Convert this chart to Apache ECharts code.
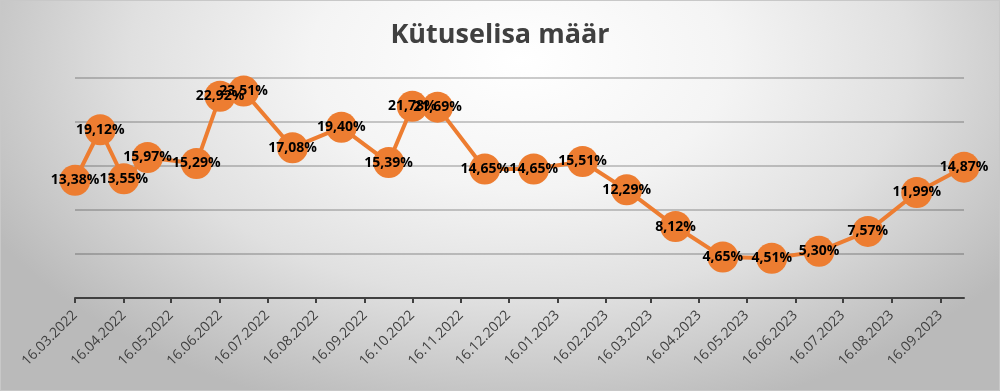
<!DOCTYPE html>
<html>
<head>
<meta charset="utf-8">
<script src="https://cdn.jsdelivr.net/npm/echarts@6/dist/echarts.min.js"></script>
<style>
  html, body { margin: 0; padding: 0; }
  #chart {
    width: 1000px; height: 391px; box-sizing: border-box;
    border: 1px solid #c8c8c8;
    background: radial-gradient(ellipse 60% 95% at 52% 15%, #ffffff 0%, #f4f4f4 35%, #e0e0e0 65%, #bababa 100%);
  }
</style>
</head>
<body>
<div id="chart"></div>
<script>
const titleText = 'Kütuselisa määr';
const dates = ['2022-03-16','2022-04-01','2022-04-16','2022-05-01','2022-06-01','2022-06-16','2022-07-01','2022-08-01','2022-09-01','2022-10-01','2022-10-16','2022-11-01','2022-12-01','2023-01-01','2023-02-01','2023-03-01','2023-04-01','2023-05-01','2023-06-01','2023-07-01','2023-08-01','2023-09-01','2023-10-01'];
const values = [13.38,19.12,13.55,15.97,15.29,22.92,23.51,17.08,19.40,15.39,21.78,21.69,14.65,14.65,15.51,12.29,8.12,4.65,4.51,5.30,7.57,11.99,14.87];
const tickDates = ['2022-03-16','2022-04-16','2022-05-16','2022-06-16','2022-07-16','2022-08-16','2022-09-16','2022-10-16','2022-11-16','2022-12-16','2023-01-16','2023-02-16','2023-03-16','2023-04-16','2023-05-16','2023-06-16','2023-07-16','2023-08-16','2023-09-16'];
const axisMin = '2022-03-16';
const axisMax = '2023-10-01';

function toTs(s) { const p = s.split('-').map(Number); return new Date(p[0], p[1] - 1, p[2]).getTime(); }
function fmtDate(ts) {
  const d = new Date(ts);
  const dd = String(d.getDate()).padStart(2, '0');
  const mm = String(d.getMonth() + 1).padStart(2, '0');
  return dd + '.' + mm + '.' + d.getFullYear();
}
const tickTs = tickDates.map(toTs);
const seriesData = dates.map((d, i) => [toTs(d), values[i]]);

const chart = echarts.init(document.getElementById('chart'), null, { renderer: 'canvas' });
chart.setOption({
  backgroundColor: 'transparent',
  animation: false,
  title: {
    text: titleText, left: 'center', top: 16,
    textStyle: { fontFamily: 'Open Sans', fontSize: 27, fontWeight: 'bold', color: '#404040' }
  },
  grid: { left: 74, right: 35, top: 77, bottom: 92, containLabel: false },
  xAxis: {
    type: 'value',
    min: toTs(axisMin), max: toTs(axisMax),
    axisLine: { show: true, lineStyle: { color: '#404040', width: 2 } },
    axisTick: { show: true, customValues: tickTs, length: 5, lineStyle: { color: '#404040', width: 2 } },
    axisLabel: {
      customValues: tickTs, rotate: 45, margin: 15,
      fontFamily: 'Open Sans', fontSize: 14, color: '#404040',
      formatter: (v) => fmtDate(v)
    },
    splitLine: { show: false }
  },
  yAxis: {
    type: 'value', min: 0, max: 25, interval: 5,
    axisLabel: { show: false }, axisLine: { show: false }, axisTick: { show: false },
    splitLine: { show: true, lineStyle: { color: 'rgba(0,0,0,0.2)', width: 2 } }
  },
  series: [{
    type: 'line',
    data: seriesData,
    symbol: 'circle', symbolSize: 31,
    itemStyle: { color: '#ED7D31' },
    lineStyle: { color: '#ED7D31', width: 4 },
    label: {
      show: true, position: 'inside',
      fontFamily: 'Open Sans', fontSize: 14, fontWeight: 'bold', color: '#000',
      formatter: (p) => p.value[1].toFixed(2).replace('.', ',') + '%'
    }
  }]
});
</script>
</body>
</html>
